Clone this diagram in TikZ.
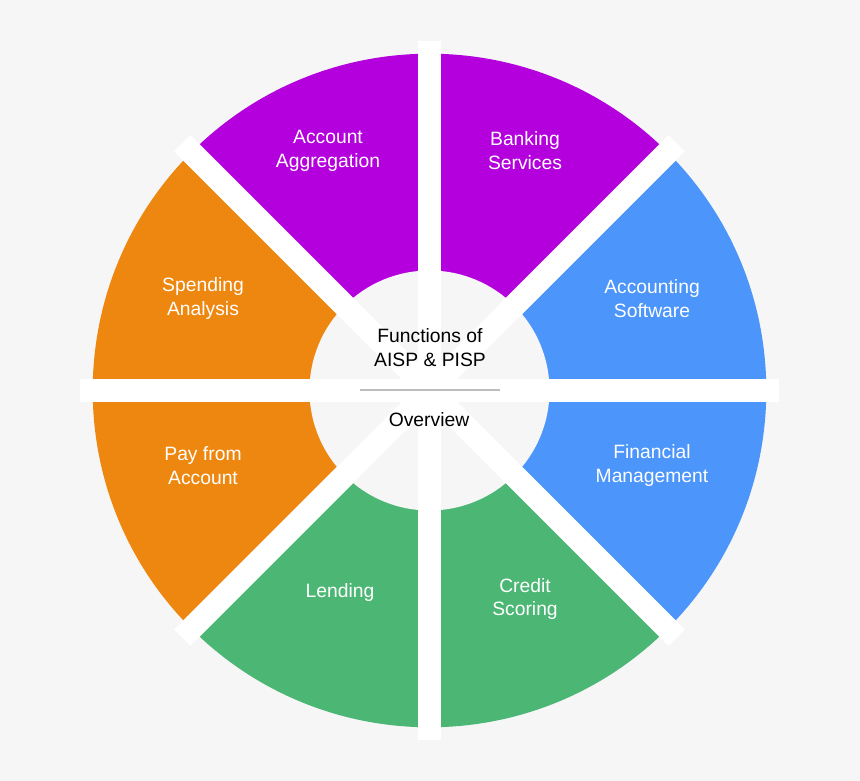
\documentclass[tikz,border=0pt]{standalone}
\usepackage{fontspec}
\setmainfont{Liberation Sans}
\definecolor{bgc}{HTML}{F6F6F6}
\definecolor{purp}{HTML}{B300DC}
\definecolor{oran}{HTML}{EE870F}
\definecolor{blu}{HTML}{4B95FB}
\definecolor{grn}{HTML}{4CB774}
\definecolor{sep}{HTML}{BDBDBD}
\begin{document}
\begin{tikzpicture}[x=1pt,y=1pt,
  lbl/.style={text=white,align=center,font=\fontsize{19.3}{23.8}\selectfont,inner sep=0pt},
  ctr/.style={text=black,align=center,font=\fontsize{19.3}{23.8}\selectfont,inner sep=0pt},
  bar/.style={fill=white}]
\useasboundingbox (0,0) rectangle (860,781);
\fill[bgc] (0,0) rectangle (860,781);
\coordinate (c) at (429.5,390.5);
\def\R{336.8}
\fill[purp] (c) -- ++(45:\R) arc[start angle=45,end angle=135,radius=\R] -- cycle;
\fill[oran] (c) -- ++(135:\R) arc[start angle=135,end angle=225,radius=\R] -- cycle;
\fill[grn] (c) -- ++(225:\R) arc[start angle=225,end angle=315,radius=\R] -- cycle;
\fill[blu] (c) -- ++(-45:\R) arc[start angle=-45,end angle=45,radius=\R] -- cycle;
\fill[bgc] (c) circle[radius=120];
\foreach \a in {0,45,90,135}{
  \fill[bar,shift={(c)},rotate=\a] (-349.5,-11.5) rectangle (349.5,11.5);
}
\draw[sep,line width=2pt] (360,391.3) -- (500,391.3);
\node[lbl] (aa) at (328,630) {Account\\Aggregation};
\node[lbl] (bs) at (525,630) {Banking\\Services};
\node[lbl] (sa) at (203,482.5) {Spending\\Analysis};
\node[lbl] (as) at (652,482.5) {Accounting\\Software};
\node[lbl] (pa) at (203,315.5) {Pay from\\Account};
\node[lbl] (fm) at (652,315.5) {Financial\\Management};
\node[lbl] (le) at (340,188) {Lending};
\node[lbl] (cs) at (525,182) {Credit\\Scoring};
\node[ctr] (fn) at (430,433.5) {Functions of\\AISP \& PISP};
\node[ctr] (ov) at (429,361) {Overview};
\end{tikzpicture}
\end{document}
